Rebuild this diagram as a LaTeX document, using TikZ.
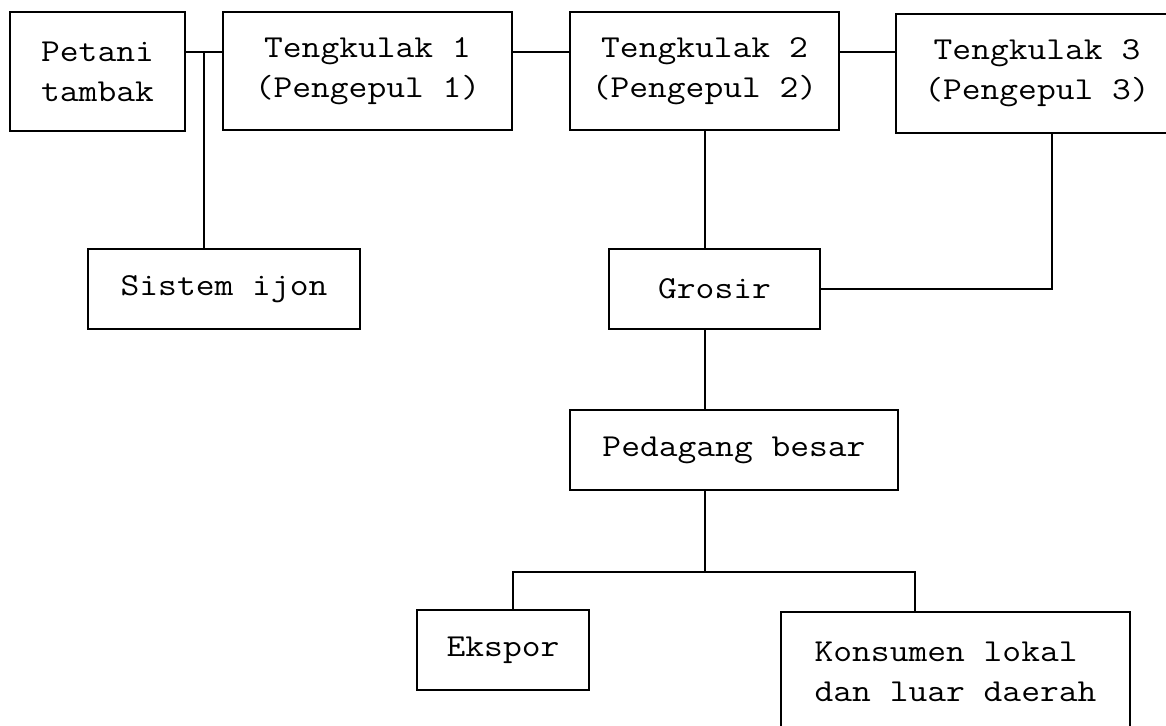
\documentclass[tikz,border=0pt]{standalone}
\usepackage{fontspec}
\setmonofont[FakeStretch=1.14]{Latin Modern Mono}
\usetikzlibrary{positioning}

\begin{document}
\begin{tikzpicture}[x=0.5pt,y=-0.5pt,line width=1.3pt,
		font=\ttfamily\fontsize{16}{20}\selectfont]
		\useasboundingbox (0,0) rectangle (1166,725);

		\begin{scope}[every node/.style={draw,rectangle,inner sep=0pt,align=center}]
			\node[minimum width=87.5pt,minimum height=59.5pt,align=left] (p) at (97.5,71.5) {Petani\\tambak};
			\node[minimum width=144.5pt,minimum height=59pt] (t1) at (367.5,71) {Tengkulak 1\\(Pengepul 1)};
			\node[minimum width=134.5pt,minimum height=59pt] (t2) at (704.5,71) {Tengkulak 2\\(Pengepul 2)};
			\node[minimum width=141pt,minimum height=59.5pt] (t3) at (1037,73.5) {Tengkulak 3\\(Pengepul 3)};
			\node[minimum width=136pt,minimum height=40pt] (i) at (224,289) {Sistem ijon};
			\node[minimum width=105.5pt,minimum height=40pt] (g) at (714.5,289) {Grosir};
			\node[minimum width=164pt,minimum height=40pt] (pb) at (734,450) {Pedagang besar};
			\node[minimum width=86pt,minimum height=40pt] (e) at (503,650) {Ekspor};
			\node[minimum width=174.5pt,minimum height=59.5pt,align=left] (kl) at (955.5,671.5) {Konsumen lokal\\dan luar daerah};
		\end{scope}

		% helper points for the connectors
		\coordinate (r) at (0,52);
		\coordinate (ij) at (204,52);
		\coordinate (v) at (705,0);
		\coordinate (u) at (1052,0);
		\coordinate (be) at (513,572);
		\coordinate (bk) at (915,572);

		\draw (p.east |- r) -- (t1.west |- r);
		\draw (t1.east |- r) -- (t2.west |- r);
		\draw (t2.east |- r) -- (t3.west |- r);
		\draw (ij) -- (ij |- i.north);
		\draw (v |- t2.south) -- (v |- g.north);
		\draw (u |- t3.south) |- (g.east);
		\draw (v |- g.south) -- (v |- pb.north);
		\draw (v |- pb.south) -- (v |- be);
		\draw (be |- e.north) -- (be) -- (bk) -- (bk |- kl.north);
	\end{tikzpicture}
\end{document}
